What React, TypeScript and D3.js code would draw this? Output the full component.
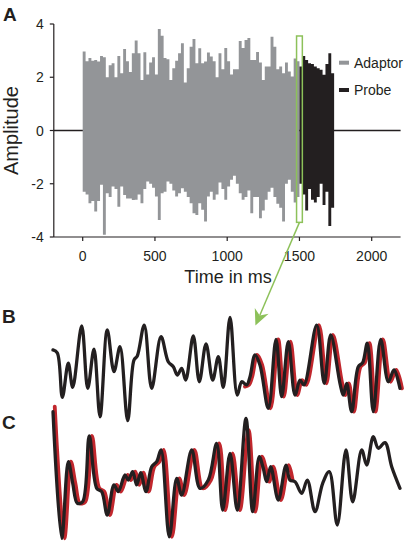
import React from "react";
import * as d3 from "d3";

// ---------- Data ----------
// Panel A: envelope (max / min) of the noise waveform, per 20 ms bin
const binMs = 20;
const adaptorStart = 0;
const probeStart = 1500;
const adaptorHi = [
  2.97, 2.6, 2.72, 2.62, 2.65, 2.59, 2.8, 2.75, 2.0, 2.45,
  2.53, 2.0, 2.8, 2.15, 3.06, 2.6, 2.2, 2.9, 3.38, 2.9,
  1.9, 2.94, 2.1, 2.55, 2.75, 2.1, 3.81, 3.56, 2.72, 2.68,
  1.9, 2.34, 2.62, 2.9, 3.28, 1.8, 2.34, 3.15, 3.44, 2.53,
  3.09, 2.53, 2.59, 2.93, 2.78, 2.6, 2.0, 2.9, 2.3, 3.1,
  2.6, 2.1, 2.3, 2.3, 3.36, 3.1, 3.4, 3.47, 2.65, 2.65,
  2.95, 2.55, 1.9, 2.4, 2.4, 3.52, 3.15, 2.3, 2.4, 2.15,
  2.55, 2.22, 2.03, 2.7, 2.6,
];
const adaptorLo = [
  -2.3, -2.4, -2.73, -2.65, -3.04, -2.65, -2.04, -3.92, -2.36, -2.5,
  -2.1, -2.2, -2.86, -2.1, -2.42, -2.55, -2.55, -2.61, -2.6, -2.4,
  -2.73, -2.2, -1.92, -2.0, -2.15, -2.48, -3.36, -2.36, -2.3, -1.92,
  -2.0, -2.25, -2.48, -2.36, -2.17, -2.3, -2.5, -2.73, -3.11, -3.17,
  -2.73, -2.98, -3.42, -2.48, -2.3, -2.6, -2.4, -1.95, -2.2, -2.6,
  -2.1, -1.85, -1.7, -2.0, -2.36, -2.6, -2.5, -2.25, -3.11, -2.5,
  -2.5, -3.3, -3.0, -2.6, -2.3, -2.15, -2.5, -2.75, -2.9, -3.42,
  -2.0, -1.85, -2.3, -2.7, -2.5,
];
const probeHi = [2.4, 2.8, 2.65, 2.53, 2.5, 2.4, 2.34, 2.28, 2.09, 2.5, 2.9, 2.15];
const probeLo = [-2.0, -2.4, -3.0, -2.2, -2.6, -2.7, -2.5, -2.0, -2.8, -2.3, -3.59, -2.9];

const xTicks = [0, 500, 1000, 1500, 2000];
const yTicks = [-4, -2, 0, 2, 4];
const highlightMs = [1480, 1520];
const highlightAmp = [-3.45, 3.55];
const legendLabels = ["Adaptor", "Probe"];

// Panel B: zoomed segment (ms within window, amplitude)
const bBlackT = [0, 0.49, 1.07, 1.75, 2.26, 3.29, 3.98, 4.7, 5.39, 6.22, 6.99, 7.68, 8.56, 9.28, 9.66, 10.46, 11.31, 12.38, 13.21, 13.79, 14.25, 14.75, 15.21, 16.08, 16.77, 17.54, 18.3, 18.95, 19.52, 20.29, 21.12, 21.63, 22.2, 22.58, 23.15, 23.72, 24.68, 25.56, 26.21, 26.97, 27.74, 28.31, 28.77, 30.22, 31.09, 31.83, 32.89, 33.27, 33.66, 34.23, 34.99, 35.49, 36.02, 36.71, 37.56, 38.43, 39.08, 39.77];
const bBlackV = [1.36, 1.16, -2.02, 0.41, -1.31, 3.07, -1.38, 1.41, -3.41, 2.79, -0.19, 1.59, -3.69, 0.64, 0.93, 3.14, -1.38, 2.31, 0.52, 0.16, -0.43, 0.05, -0.79, 2.36, -0.91, 1.79, -0.79, 0.88, -1.31, 3.69, -1.86, -0.91, -1.14, -0.55, 1.0, 0.29, -2.81, 2.12, -1.98, 1.95, -1.86, -0.79, -1.14, 3.14, -1.02, 2.43, -1.02, -1.86, -1.02, -3.05, 0.16, 0.45, 1.84, -3.05, 2.12, -0.91, -0.07, -1.38];
const bRedT = [22.0, 22.45, 22.83, 23.4, 23.97, 24.93, 25.81, 26.46, 27.22, 27.99, 28.56, 29.02, 30.47, 31.34, 32.08, 33.14, 33.52, 33.91, 34.48, 35.24, 35.74, 36.27, 36.96, 37.81, 38.68, 39.33, 40.0];
const bRedV = [-1.26, -1.14, -0.55, 1.0, 0.29, -2.81, 2.12, -1.98, 1.95, -1.86, -0.79, -1.14, 3.14, -1.02, 2.43, -1.02, -1.86, -1.02, -3.05, 0.16, 0.45, 1.84, -3.05, 2.12, -0.91, -0.07, -1.38];

// Panel C
const cBlackT = [0, 1.0, 1.75, 2.26, 2.79, 3.4, 4.16, 5.01, 5.58, 6.22, 6.99, 7.48, 8.25, 8.63, 9.13, 9.59, 10.05, 10.66, 11.31, 11.89, 12.38, 13.33, 14.18, 14.75, 15.9, 16.85, 17.8, 18.76, 19.45, 20.29, 21.12, 22.12, 22.89, 23.64, 24.1, 24.49, 24.95, 25.82, 26.71, 27.16, 27.74, 28.5, 29.15, 30.03, 30.91, 31.67, 32.58, 33.58, 34.35, 35.38, 35.95, 36.71, 37.28, 38.05, 38.82, 39.77];
const cBlackV = [4.52, -4.52, 0.95, -0.59, -2.02, -1.91, 2.79, -0.95, -1.19, -2.86, -0.71, -1.19, 0, -0.36, 0.24, -0.71, 0.16, -1.19, 0.59, 0.95, 1.79, -4.41, -0.24, -1.43, 1.79, -0.95, -0.36, 2.26, -2.5, 1.55, -2.5, 4.05, -2.62, 1.31, 0.48, -0.48, 0.59, -1.79, 0.71, -0.36, -0.48, -1.31, -0.36, -2.62, -0.59, 0.24, -3.57, 1.79, -1.91, 1.79, 0.71, 2.74, 1.91, 2.31, 0.59, -0.95];
const cRedT = [0.2, 1.3, 2.05, 2.56, 3.09, 3.7, 4.46, 5.31, 5.88, 6.52, 7.29, 7.78, 8.55, 8.93, 9.43, 9.89, 10.35, 10.96, 11.61, 12.19, 12.68, 13.63, 14.48, 15.05, 16.2, 17.15, 18.1, 19.06, 19.75, 20.59, 21.42, 22.42, 23.19, 23.94, 24.4, 24.79, 25.25, 26.12, 27.01, 27.46];
const cRedV = [4.88, -4.52, 0.95, -0.59, -2.02, -1.91, 2.79, -0.95, -1.19, -2.86, -0.71, -1.19, 0, -0.36, 0.24, -0.71, 0.16, -1.19, 0.59, 0.95, 1.79, -4.41, -0.24, -1.43, 1.79, -0.95, -0.36, 2.26, -2.5, 1.55, -2.5, 3.2, -2.62, 1.31, 0.48, -0.48, 0.59, -1.79, 0.71, -0.36];

// ---------- Styles ----------
const FONT = "'Liberation Sans', Arial, Helvetica, sans-serif";
const INK = "#231f20";
const GRAY = "#939598";
const GREEN = "#8dc15a";
const RED = "#c1272d";

type Bin = { t: number; hi: number; lo: number };
function toBins(hi: number[], lo: number[], start: number): Bin[] {
  const out: Bin[] = hi.map((h, i) => ({ t: start + i * binMs, hi: h, lo: lo[i] }));
  out.push({ t: start + hi.length * binMs, hi: hi[hi.length - 1], lo: lo[lo.length - 1] });
  return out;
}

export default function App() {
  const W = 408, H = 544;
  const x = d3.scaleLinear().domain([-200, 2200]).range([53.8, 400.6]);
  const y = d3.scaleLinear().domain([-4, 4]).range([237, 24]);

  const area = d3
    .area<Bin>()
    .x((d) => x(d.t))
    .y0((d) => y(d.lo))
    .y1((d) => y(d.hi))
    .curve(d3.curveStepAfter);

  const adaptorBins = toBins(adaptorHi, adaptorLo, adaptorStart);
  const probeBins = toBins(probeHi, probeLo, probeStart);

  // zoom panels
  const xz = d3.scaleLinear().domain([0, 40]).range([53, 402]);
  const yB = d3.scaleLinear().domain([-4, 4]).range([425, 313]);
  const yC = d3.scaleLinear().domain([-4, 4]).range([531, 419]);
  const mk = (ys: d3.ScaleLinear<number, number>) =>
    d3
      .line<[number, number]>()
      .x((d) => xz(d[0]))
      .y((d) => ys(d[1]))
      .curve(d3.curveCatmullRom.alpha(0.5));
  const zip = (t: number[], v: number[]) => t.map((tt, i) => [tt, v[i]] as [number, number]);
  const lineB = mk(yB);
  const lineC = mk(yC);

  // highlight rectangle & arrow
  const rx0 = x(highlightMs[0]);
  const rx1 = x(highlightMs[1]);
  const ry0 = y(highlightAmp[1]);
  const ry1 = y(highlightAmp[0]);
  const ax0 = (rx0 + rx1) / 2;
  const ay0 = ry1;
  const tip = [xz(23.2), yB(3.1)];
  const dx = tip[0] - ax0, dy = tip[1] - ay0;
  const len = Math.hypot(dx, dy);
  const ux = dx / len, uy = dy / len;
  const px = -uy, py = ux;
  const hl = 16, hw = 7.5, notch = 5;
  const baseX = tip[0] - ux * hl, baseY = tip[1] - uy * hl;
  const headPts = [
    [tip[0], tip[1]],
    [baseX + px * hw, baseY + py * hw],
    [tip[0] - ux * (hl - notch), tip[1] - uy * (hl - notch)],
    [baseX - px * hw, baseY - py * hw],
  ];

  return (
    <svg
      width={W}
      height={H}
      style={{ position: "absolute", left: 0, top: 0, background: "#fff" }}
      fontFamily={FONT}
    >
      {/* Panel letters */}
      <text x={3} y={20.7} fontSize={19} fontWeight="bold" fill={INK}>A</text>
      <text x={2} y={323} fontSize={19} fontWeight="bold" fill={INK}>B</text>
      <text x={2} y={429} fontSize={19} fontWeight="bold" fill={INK}>C</text>

      {/* zero line */}
      <line x1={x.range()[0]} x2={x.range()[1]} y1={y(0)} y2={y(0)} stroke={INK} strokeWidth={1.4} />

      {/* waveforms */}
      <path d={area(adaptorBins) ?? ""} fill={GRAY} />
      <path d={area(probeBins) ?? ""} fill={INK} />

      {/* axes */}
      <line x1={x.range()[0]} x2={x.range()[0]} y1={y(4)} y2={y(-4)} stroke={INK} strokeWidth={1.2} />
      <line x1={x.range()[0]} x2={x.range()[1]} y1={y(-4)} y2={y(-4)} stroke={INK} strokeWidth={1.2} />
      {yTicks.map((v) => (
        <g key={"y" + v}>
          <line x1={x.range()[0] - 4} x2={x.range()[0]} y1={y(v)} y2={y(v)} stroke={INK} strokeWidth={1.2} />
          <text x={x.range()[0] - 10} y={y(v) + 5} fontSize={14} textAnchor="end" fill={INK}>{String(v)}</text>
        </g>
      ))}
      {xTicks.map((v) => (
        <g key={"x" + v}>
          <line x1={x(v)} x2={x(v)} y1={y(-4)} y2={y(-4) + 4} stroke={INK} strokeWidth={1.2} />
          <text x={x(v)} y={260.7} fontSize={14} textAnchor="middle" fill={INK}>{String(v)}</text>
        </g>
      ))}
      <text x={228} y={283} fontSize={18} textAnchor="middle" fill={INK}>Time in ms</text>
      <text
        transform={`translate(18,${y(0)}) rotate(-90)`}
        fontSize={20}
        textAnchor="middle"
        fill={INK}
      >
        Amplitude
      </text>

      {/* legend */}
      {legendLabels.map((lab, i) => (
        <g key={lab} transform={`translate(339,${62.7 + i * 27.3})`}>
          <rect x={0} y={-2} width={10} height={4} fill={i === 0 ? GRAY : INK} />
          <text x={15} y={5} fontSize={14} fill={INK}>{lab}</text>
        </g>
      ))}

      {/* highlight window */}
      <rect x={rx0} y={ry0} width={rx1 - rx0} height={ry1 - ry0} fill="none" stroke={GREEN} strokeWidth={1.5} />
      <line x1={ax0} y1={ay0} x2={tip[0] - ux * (hl - notch)} y2={tip[1] - uy * (hl - notch)} stroke={GREEN} strokeWidth={1.5} />
      <polygon points={headPts.map((p) => p.join(",")).join(" ")} fill={GREEN} />

      {/* Panel B */}
      <path d={lineB(zip(bRedT, bRedV)) ?? ""} fill="none" stroke={RED} strokeWidth={3.8} strokeLinejoin="round" strokeLinecap="round" />
      <path d={lineB(zip(bBlackT, bBlackV)) ?? ""} fill="none" stroke={INK} strokeWidth={3.3} strokeLinejoin="round" strokeLinecap="round" />

      {/* Panel C */}
      <path d={lineC(zip(cRedT, cRedV)) ?? ""} fill="none" stroke={RED} strokeWidth={3.8} strokeLinejoin="round" strokeLinecap="round" />
      <path d={lineC(zip(cBlackT, cBlackV)) ?? ""} fill="none" stroke={INK} strokeWidth={3.3} strokeLinejoin="round" strokeLinecap="round" />
    </svg>
  );
}
